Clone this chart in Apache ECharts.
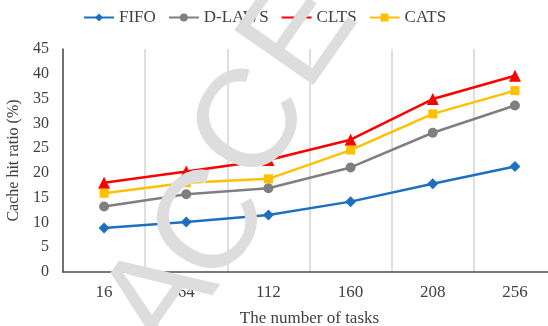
<!DOCTYPE html>
<html>
<head>
<meta charset="utf-8">
<script src="https://cdn.jsdelivr.net/npm/echarts@6/dist/echarts.min.js"></script>
<style>
  html, body { margin: 0; padding: 0; background: #fff; }
  #chart { width: 548px; height: 326px; }
</style>
</head>
<body>
<div id="chart"></div>
<script>
// Number of tasks on the x axis
const taskCounts = ['16', '64', '112', '160', '208', '256'];

// Cache hit ratio (%) per scheduling method
const fifo  = [8.9, 10.1, 11.5, 14.2, 17.8, 21.3];
const dlaws = [13.2, 15.7, 16.9, 21.1, 28.1, 33.6];
const clts  = [18.0, 20.3, 22.6, 26.7, 34.9, 39.6];
const cats  = [15.9, 18.0, 18.8, 24.6, 31.9, 36.6];

const yTicks = { min: 0, max: 45, interval: 5 };

const serifFont = '"Liberation Serif", "Times New Roman", serif';
const textColor = '#404040';

function lineSeries(name, data, color, symbol, size) {
  return {
    name: name,
    type: 'line',
    data: data,
    symbol: symbol,
    symbolSize: size,
    showAllSymbol: true,
    lineStyle: { color: color, width: 2.5 },
    itemStyle: { color: color },
    emphasis: { disabled: true },
    z: 3
  };
}

// Faint diagonal stamp lettering laid over the plot
const stampLetters = [
  { ch: 'A', x: 162, y: 300 },
  { ch: 'C', x: 213, y: 227 },
  { ch: 'C', x: 253, y: 126 },
  { ch: 'E', x: 302, y: 34 }
];
const stampAngle = 55 * Math.PI / 180;

const chart = echarts.init(document.getElementById('chart'), null, { renderer: 'canvas' });

chart.setOption({
  animation: false,
  backgroundColor: '#ffffff',
  legend: {
    top: 4,
    left: 78,
    itemWidth: 30,
    itemHeight: 10,
    itemGap: 12,
    textStyle: { fontFamily: serifFont, fontSize: 17, color: textColor },
    data: ['FIFO', 'D-LAWS', 'CLTS', 'CATS']
  },
  grid: {
    left: 63, top: 49, width: 493, height: 223,
    containLabel: false,
    outerBoundsMode: 'none'
  },
  xAxis: {
    type: 'category',
    data: taskCounts,
    boundaryGap: true,
    name: 'The number of tasks',
    nameLocation: 'middle',
    nameGap: 38,
    nameTextStyle: { fontFamily: serifFont, fontSize: 17, color: textColor },
    axisLine: { show: true, lineStyle: { color: '#4d4d4d', width: 1.5 } },
    axisTick: { show: false },
    axisLabel: { fontFamily: serifFont, fontSize: 17, color: textColor, margin: 12 },
    splitLine: { show: true, lineStyle: { color: '#d4d4d4', width: 1.5 } }
  },
  yAxis: {
    type: 'value',
    min: yTicks.min,
    max: yTicks.max,
    interval: yTicks.interval,
    name: 'Cache hit ratio (%)',
    nameLocation: 'middle',
    nameGap: 39,
    nameTextStyle: { fontFamily: serifFont, fontSize: 16, color: textColor },
    axisLine: { show: true, lineStyle: { color: '#4d4d4d', width: 1.5 } },
    axisTick: { show: false },
    axisLabel: { fontFamily: serifFont, fontSize: 16, color: textColor, margin: 14 },
    splitLine: { show: false }
  },
  series: [
    lineSeries('FIFO', fifo, '#1f6fbf', 'diamond', 11),
    lineSeries('D-LAWS', dlaws, '#7f7f7f', 'circle', 10),
    lineSeries('CLTS', clts, '#ff0000', 'triangle', 12),
    lineSeries('CATS', cats, '#ffc000', 'rect', 9)
  ],
  graphic: stampLetters.map(function (l) {
    return {
      type: 'text',
      x: l.x,
      y: l.y,
      rotation: stampAngle,
      z: 100,
      silent: true,
      style: {
        text: l.ch,
        fill: '#dddddd',
        font: '140px "Liberation Sans", Arial, sans-serif',
        align: 'center',
        verticalAlign: 'middle'
      }
    };
  })
});
</script>
</body>
</html>
